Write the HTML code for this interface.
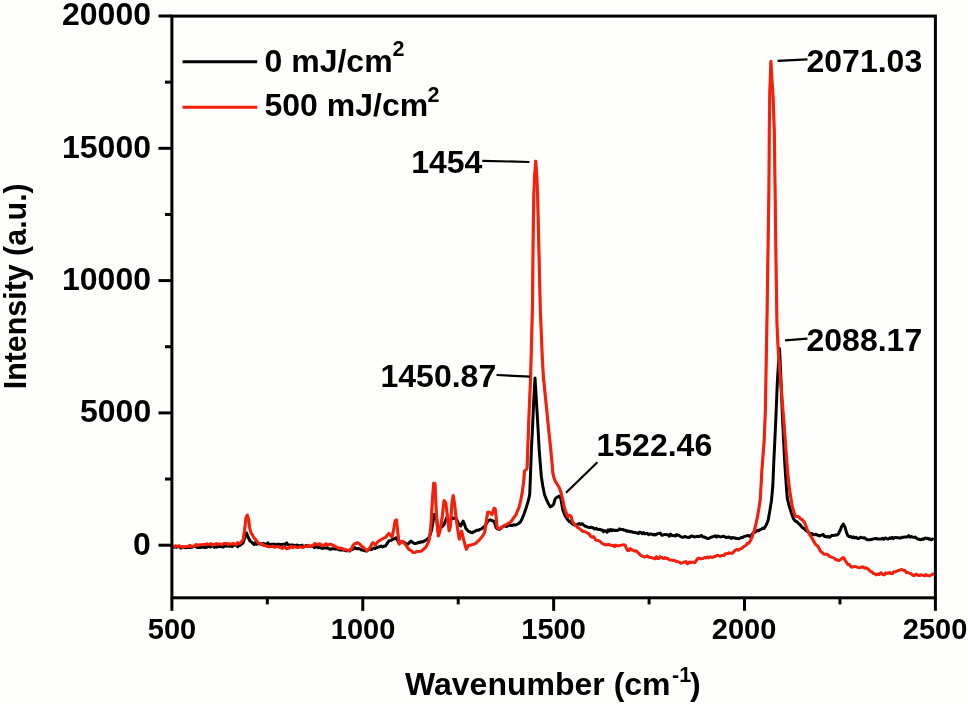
<!DOCTYPE html>
<html><head><meta charset="utf-8"><title>Raman spectra</title>
<style>
html,body{margin:0;padding:0;background:#fefefc;}
svg{display:block}
text{font-family:"Liberation Sans",sans-serif;font-weight:bold;fill:#000;}
</style></head><body>
<svg width="968" height="704" viewBox="0 0 968 704">
<rect x="0" y="0" width="968" height="704" fill="#fefefc"/>
<polyline points="172,546.5 173.1,546.6 174.3,547.3 175.4,546.2 176.6,547.3 177.7,546.7 178.9,546.8 180,547 181.1,548.1 182.2,547.2 183.3,547.1 184.4,547.6 185.6,547.8 186.7,547.2 187.8,547.6 188.9,546.8 190,547.4 191.1,547.2 192.2,547.2 193.3,546.7 194.4,546.6 195.6,546.6 196.7,547.3 197.8,547.4 198.9,547.3 200,547.5 201.1,547.5 202.2,546.7 203.3,547.3 204.4,547.4 205.6,547.6 206.7,546.7 207.8,546.9 208.9,545.9 210,547 211.1,546.7 212.2,545.7 213.3,546.1 214.4,547.4 215.6,545.5 216.7,547.1 217.8,546.8 218.9,546.4 220,546.5 221.1,546.7 222.2,546.7 223.3,547 224.4,546.2 225.6,546 226.7,546 227.8,545.7 228.9,546.2 230,546.2 231.1,545.7 232.2,546.6 233.3,544.9 234.4,545.3 235.6,545.3 236.7,544.6 237.8,546.7 238.9,544.3 240,545.5 241.5,544.1 243,543 245,537 246.5,533 248,537 250,541 251.5,542 253,543.5 254.2,544.5 255.3,542.6 256.5,544.3 257.7,543.4 258.8,543.8 260,544 261.1,543.7 262.2,544.4 263.3,543.4 264.4,544 265.6,544.3 266.7,545.1 267.8,542.8 268.9,545 270,544.2 271.1,544.8 272.2,544 273.3,544.5 274.4,544.1 275.6,545.3 276.7,544.5 277.8,544.3 278.9,544.3 280,544.5 281.1,544.4 282.2,544.5 283.3,544.2 284.4,545.9 285.6,543.7 286.7,542.9 287.8,544.8 288.9,544.9 290,545 291.1,545.3 292.2,545 293.3,545.1 294.4,545.4 295.6,545.8 296.7,545.1 297.8,545.2 298.9,546.5 300,545.5 301.1,545.9 302.2,545.2 303.3,547.1 304.4,546.4 305.6,545.8 306.7,545.6 307.8,546.5 308.9,546 310,546.6 311.1,546.1 312.2,546.1 313.3,546.6 314.4,547.6 315.6,546.9 316.7,546.4 317.8,547.7 318.9,547.4 320,547.5 321.1,548.1 322.3,548.4 323.4,547.8 324.6,547.9 325.7,548.1 326.9,547.6 328,548.4 329.2,548.9 330.3,549.4 331.5,548.8 332.7,548.7 333.8,548.8 335,549 336.2,548.8 337.5,549.1 338.8,549.5 340,550 341.2,549.7 342.5,550 343.8,549.5 345,550.5 346.2,550.8 347.5,550.8 348.8,550.2 350,551 351.2,549 352.4,549.6 353.6,548.6 354.9,547.6 356.4,548.7 358,548.6 359.2,548.7 360.3,549.3 361.5,550 362.9,550 364.4,550.6 365.9,551 367.3,550.6 368.6,549.6 370,549.6 371.5,549.5 373,548.4 374.1,548 375.3,548.5 376.4,547.8 377.5,547.5 378.6,547 379.7,546.8 381.1,546.1 382.6,547 384.1,546.1 385.5,546 387.2,543.4 388.8,541 391,540.4 392.9,539.3 394.6,538.6 396.2,537.7 397.5,540.4 398.7,542.6 400.8,542 402.8,541.8 404.1,542.4 405.4,543.2 406.6,544.1 407.8,544.3 409.4,542.6 411,541 412.8,542.6 414.4,543.5 416,543.4 417.6,543 418.7,542.2 419.9,542.4 421,541.8 422.3,542.1 423.6,541.4 424.8,540.7 426,540.2 427.8,538.8 429.3,536.9 430.6,533.4 431.7,529.4 433,522 434.2,514.5 435.9,514.5 436.8,520 437.5,526 439,527.2 440.8,527.8 442.5,526.4 444.1,524.5 445.4,521 446.6,517.9 447.8,520 449.1,522.8 450.8,520 452.4,517.9 454,518.4 455.7,517.9 457,520 458.2,522.8 459.5,524.6 460.7,526 462,523.4 463.1,521 464.4,524 465.6,527.8 466.8,529.6 468.1,531 470,532 472.2,532.7 473.4,531.9 474.6,531.6 475.9,530.7 477.2,530.2 478.6,530.2 480,529.4 481.5,528.9 483,527.8 484.8,526 486.3,523.6 487.6,521.6 488.8,520.3 490.1,519.8 491.4,520.4 492.5,520.9 493.7,521 495,524 496.2,527.8 497.4,529 499.5,529.4 500.8,528.1 502,527.4 503.4,526.2 504.9,525.9 506.2,526.5 507.4,526.1 508.7,525.1 510,525.4 511.1,525.4 512.2,525.5 513.4,524.8 514.5,525 515.6,525 517.8,524 519.8,522.6 520.9,521.2 522,519 523.9,514.3 525.6,509.6 527.2,504.4 528.5,500 529.7,494.5 530.3,479.6 531.4,449 532.5,428 533.7,401 535,378 536.4,401 538,428 539.2,449.8 540.3,464 541.4,477 542.8,486 544.5,494.5 546.2,499 547.9,502.7 549.2,505 550.3,506.9 552,506 553.6,504.4 554.5,501 555.3,498.6 557.4,497 559.4,496 561,499.4 562.7,509.3 564,513 565.2,516 567.2,519 569.3,521.7 570.5,521.6 571.8,523.4 573,524.4 574.3,525 575.5,525.1 576.8,524.7 578,524.2 579.1,523.5 580.3,524.4 581.5,523.7 582.6,524.2 583.7,525.2 584.9,526 586,526.4 587.6,527.1 589.2,527.5 590.6,527.2 592,527.5 593.4,528 594.7,528.9 596.1,528.3 597.4,529.2 598.7,529.5 600,529.3 601.1,530 602.3,529.9 603.5,531.7 604.6,530.8 605.8,530.9 607,532.1 608.1,529.8 609.3,531 610.5,529.4 611.8,530.7 613,529.8 614.3,530.4 615.7,530.2 617,530.6 618.2,530.2 619.4,528.9 620.6,529.6 621.8,529.5 623,529.4 624.2,530.2 625.5,530.3 626.7,531.2 628,531 629.1,531.3 630.3,531.8 631.5,531.5 632.6,532.2 633.8,532.2 634.9,532.7 636.1,532.6 637.2,533 638.5,533.5 639.7,532.1 641,532.4 642.2,533.7 643.5,532.5 644.8,533.9 646,533.6 647.2,533.3 648.5,534.7 649.8,534 651,534 652.2,534.4 653.4,534.9 654.6,534.3 655.8,534.9 657.4,533.7 659,533.6 660.3,533 661.7,535.2 663,535 664.2,534.6 665.5,534.6 666.8,534.8 668,534.8 669.3,536.1 670.6,534.2 671.8,535.5 673.1,535.4 674.4,535.8 675.5,536 676.7,534.6 677.9,535.3 679,535.4 680.2,536.2 681.5,537 682.8,537.3 684,536.8 685.3,536.5 686.6,537.2 688,537.3 689.3,537.6 690.5,536.4 691.8,536 693,536.4 694.3,536.9 695.7,536.7 697,536.6 698.1,536.3 699.3,536.7 700.4,535.8 701.6,535.6 702.8,536.9 704,537 705.3,537.5 706.5,538 707.8,538.6 709.1,538.3 710.3,537.6 711.6,537 712.8,536.7 714.1,536.3 715.3,535.8 716.5,537.1 717.8,536 719,536.4 720.3,536.9 721.7,536.6 723,536.2 724.3,536.4 725.7,537.4 727,537.4 728.6,537 730.2,537.6 731.5,538.4 732.7,537.4 734,538 735.2,537.9 736.4,538.6 737.6,538.6 738.7,538.7 739.9,538.4 741,537.6 742.5,537.6 744,536.6 745.5,536.1 746.9,535.8 748.5,535.6 750,536.5 751.5,535.1 753,533 754.5,532.4 756,531.4 757.3,530.3 758.7,530.7 760,529.6 761.4,529.3 762.7,528.3 764.1,528.4 766.2,525 768.1,520.4 769.8,511 771.5,500.2 772.8,486 773.8,462 775.7,422 777.4,381 779.5,348.4 781,381 782.6,420 784.6,460 785.4,473 786.6,490 787.4,499 789.3,506.3 791.4,513 793.3,518.3 794.5,520.1 795.8,521.4 797,521.7 798.3,523.4 799.6,524.2 801,526 802.2,527.4 803.4,528.4 804.6,528.5 805.8,530.3 807,531.2 808.1,531.2 809.3,533.1 810.4,533.5 811.8,533.5 813.2,534.5 814.6,534.8 815.9,534.2 817.2,535.1 818.5,535.5 819.7,535.9 820.8,535.4 822,535 823.3,534.5 824.7,536.6 826,536.6 827.1,537.1 828.3,536.3 829.5,537.3 830.6,536.5 831.8,535.4 833,535.4 834.5,535.2 836,535 837.3,534.9 838.6,533.5 840.3,530 841.7,526.4 843.3,524 845.1,527.4 846.4,532 847.7,535.5 849.4,536.8 851,536.6 852.2,537.8 853.4,536.9 854.6,538 856,537.2 857.4,538.5 858.8,538.5 860.4,537.3 862,537.6 863.3,538 864.7,537.8 866,539 867.2,539.7 868.5,539.7 869.7,539.7 870.9,539.5 872.3,539.2 873.6,538.9 875,538.6 876.2,538.5 877.5,539 878.8,539 880,539 881.2,539 882.5,538.3 883.8,539.3 885,538 886.2,538.3 887.4,539 888.6,539 889.8,537.9 891,538.5 892.2,537.3 893.5,538.7 894.8,537.6 896,537.6 897.2,537.7 898.5,537.7 899.8,538 901,538 902.2,537.1 903.5,537.4 904.8,537 906,537 907.3,536.9 908.6,535.5 909.9,537.1 911.2,536.5 912.6,537.1 914,537.4 915.2,537 916.4,538.1 917.6,539 918.8,539.2 920,539.7 921.2,539.5 922.5,539 923.7,539.3 925,538 926.3,538.4 927.7,538.2 929,539.2 930.2,538.9 931.4,539.8 932.5,539.1 933.7,539.5" fill="none" stroke="#000" stroke-width="3" stroke-linejoin="round"/>
<g fill="none" stroke="#f6200a" stroke-width="2.6" stroke-linejoin="round"><polyline transform="translate(-0.25,0)" points="172,546 173.2,545.9 174.4,546.4 175.6,546 176.8,546.1 178,546.3 179.2,545.8 180.3,546.3 181.5,547.1 182.7,546.8 183.8,547.2 185,546.6 186.2,546.6 187.3,546.6 188.5,546.4 189.7,545.2 190.8,546.6 192,546 193.2,546.2 194.4,546.1 195.6,544.7 196.8,544.6 198,545.6 199.2,544.8 200.5,544.7 201.8,544.9 203,544.4 204.2,544.3 205.3,544.6 206.5,543.8 207.7,544.3 208.8,544.3 210,544 211.1,543.6 212.3,545.1 213.4,544.4 214.6,544.8 215.7,543.8 216.9,543.7 218,544.2 219.1,543.9 220.3,544 221.4,544.4 222.6,544.1 223.7,543.6 224.9,543.3 226,543.8 227.1,543.5 228.3,544.6 229.4,543.5 230.6,544.2 231.7,544.3 232.9,543.2 234,544.2 235.2,544.1 236.4,544.7 237.6,542.6 238.8,543.4 240,543.5 241.5,541.7 243,540 244.5,531 246,518 247.2,515 248.5,519 249.5,527 251,533 252.5,535 254,538 255.5,539.3 257,541.5 258.5,543 260,544 261.2,544.3 262.5,543.9 263.8,545.6 265,545.5 266.2,546.1 267.3,546.4 268.5,546.9 269.7,546.5 270.8,546.5 272,546.6 273.1,546 274.3,547.3 275.4,546.7 276.6,546.9 277.7,546.6 278.9,546.9 280,547.6 281.1,547.3 282.3,548.5 283.4,546.6 284.6,547 285.7,548 286.9,548.8 288,548 289.1,548.2 290.3,546.6 291.4,546.1 292.6,547.8 293.7,547 294.9,546.6 296,547.2 297.1,547.7 298.2,547.7 299.4,547 300.5,546.9 301.6,547 302.8,547.6 303.9,546.9 305,546.4 306.2,546.6 307.3,546.5 308.5,545.1 309.7,546.6 310.8,546.3 312,545.6 313.2,545.5 314.5,543.6 315.8,544 317,544 318.3,544.9 319.7,543.7 321,545.2 322.3,544.9 323.7,545.4 325,544.6 326.2,543.7 327.5,545.3 328.8,544.5 330,544 331.3,544.4 332.7,545.3 334,545.6 335.3,546.7 336.7,547 338,547.6 339.3,548.6 340.7,547.9 342,548.6 343.3,548.7 344.7,549.9 346,549.6 347.5,550.3 349,551 350.3,549.5 351.6,549 353.2,545 355,543.4 356.2,543.6 357.4,542.6 359,543.6 360.7,545 361.9,546.8 363,546.8 365,549 366.1,549.7 367.3,551 369,549 370.6,546.8 371.8,543.9 373,542.6 374.2,543.7 375.5,545 377,542.6 378.8,541 380.1,540.1 381.5,539.4 383.1,538.4 384.6,537.7 385.8,537.4 387,535.4 388.8,533.5 390.5,535.6 392,536.9 393.7,529.4 395.2,520.6 396.5,519.8 397.8,532.7 399.2,544.3 400.6,542.2 402,541 403.6,542.6 405.3,544.3 407.5,547.4 409.4,550 410.7,550.1 412,551.4 413.6,552.8 415.2,552.6 416.5,551.4 417.7,551.3 419,551.4 420.2,551.3 421.4,551.1 422.6,550 424.4,548.6 426,546.8 427.8,543.6 429.3,539.3 430.9,526 432.4,500 433.7,483 435,483.5 436.2,509.6 437.3,526 438.3,536 440,531 441.3,523 442.5,514.5 443.4,506 444.1,500.5 445.8,503 447.4,516 448.3,524 449.1,531 450.4,526 451.2,514 452,503 453.2,495.5 454.4,503 455.5,512 456.5,521 457.4,527 458.2,532.7 459.3,539.3 460.5,534 461.5,531 462.3,534 463.1,537.7 464.8,544 466.4,549.3 467.7,546.6 468.9,545 470.4,545.3 472,544.6 473.2,544.4 474.3,544 475.5,543.5 476.8,542.3 478,541 479.2,540.1 480.5,538.5 482.6,536 484.6,532.7 485.5,527 486.3,521 487.1,516 487.9,512 489.2,512 490.4,513 492,514.5 493.2,511 494.2,508 495.4,509.6 496.2,518 497,526.5 498,528.6 499.5,529 500.8,527.9 502,527 503.4,526.2 504.9,525 506.1,524.7 507.4,523.8 508.6,523.2 509.8,522.6 511.1,521.6 512.4,519.6 513.6,518.1 514.8,516 515.9,515.2 517,512 518.9,507.7 520.6,501 522.2,492.8 523.9,479.6 524.5,471 526,469.8 527,468.5 527.6,453 529,415 530.6,377 531.6,340 532.5,305 533.1,241 533.8,195.5 534.6,176 535.7,161 536.8,176 537.6,195.5 538.7,241 540.3,309 542.3,358 543.4,377 546.1,403.6 548.5,428 550.7,449 552.3,466 552.7,472 553.6,476.6 555.3,481.2 557.4,484.6 559.4,487.9 560.7,491.6 561.9,496 563.2,502 564.4,507.7 566,512.6 567.7,516.8 569.4,515 571,516 571.8,519.4 572.6,521.7 573.8,523.4 575,524.8 576.3,525.9 577.6,527.5 578.7,528 579.9,529 581,529.8 582.6,531.3 584.2,531.7 585.5,531.9 586.8,532.6 588,533.5 589.2,534 590.8,536.7 592.4,537.2 593.5,536.6 594.7,538.4 595.8,540 596.9,540.3 598,540.4 600,541.4 601.3,542.7 602.6,543.6 604.1,544.4 605.6,545 606.7,544.5 607.9,545 609,544.4 610.5,545.2 612,545.6 613.2,545.1 614.4,546.7 615.6,545 617.1,545.7 618.6,546 619.7,545.3 620.9,545.3 622,545 623.5,544.9 625.1,545 626.4,548.4 627.9,550.7 629.1,550.4 630.2,548.6 631.4,550 632.7,549.9 634,551.1 635.3,550.7 636.5,551 637.8,552.6 639,553.6 640.3,555 641.5,555.8 642.8,556.2 644.4,557.2 646,556.4 647.3,555.8 648.7,557 650,557.6 651.3,557.5 652.6,558.2 653.9,558 655.1,558.8 656.4,556.7 657.6,558.4 658.9,558.7 660.1,556.7 661.4,557.2 662.7,558.3 664,558.6 665.2,557.6 666.4,558.6 667.6,558.4 669.2,559.9 670.7,560 671.9,560 673.2,560.4 674.4,560.4 675.6,561.3 676.8,561.4 678,561.8 679.2,562 680.4,563.2 681.5,563.1 682.7,562.7 684.4,562 686,561.6 687.3,563.9 688.6,562.9 689.7,561.9 690.9,562.8 692,562 693.4,562.2 694.8,562.7 696.6,560 698.5,558 699.7,558.3 700.8,559 702,558.8 703.5,558.2 705,557.4 706.1,558 707.3,556.9 708.4,558 710,556.7 711.6,557.2 712.7,557.4 713.9,556.4 715,556.8 716.2,555.8 717.4,555.1 718.6,555.6 720,556.3 721.3,555.8 722.7,555.3 723.9,555.7 725.2,553.7 726.4,553.8 727.6,553.6 728.8,552.7 730,553.2 731.3,553.1 732.6,553.1 733.9,551.6 735.5,550.1 737,549.6 738.5,550.2 740,549 741.6,548.6 743.2,547 744.6,546.1 746,545.4 747.4,543.1 748.8,543.2 750.6,540.4 752.5,535.8 754.3,530.6 756.2,522.8 757.6,516 759,507.9 760.3,499 761.9,470 764.2,440 765.4,409.5 766.4,350 766.9,325 768.9,190 769.3,131 769.8,92 770.9,61.3 772.2,84 773.1,97 774.3,131 775.2,199 776.1,270 777,325 778.2,350 779.8,371 783.9,422 787.6,472 789.6,490 791,499 792.3,506.3 793.8,512 795.3,516.3 797.4,516.4 799.4,517.3 800.7,519.2 802,519.4 803.2,520.8 804.4,522.4 806,526 807.4,530.4 808.5,532.1 809.6,534.6 810.8,536.5 812,538 813.2,540.5 814.5,542.5 815.8,544.8 817,545.4 818.3,546.9 819.6,549.6 821,551.8 822.5,552.6 823.7,554 824.8,554.4 826,554 827.1,554.5 828.3,554.9 829.5,556.6 830.6,556.6 831.9,557.3 833.3,557.9 834.6,558.4 835.9,560 837.3,559.8 838.6,560.7 840.6,559.6 842.7,557.6 844,557.9 845.4,561 846.7,562.6 848,564.6 849.4,564.5 850.7,566.7 852,567.2 853.3,566.8 854.6,566.6 856,566.6 857.4,567.3 858.8,567.7 860.4,567.7 862,566.8 863.3,567.1 864.5,568.2 865.8,567.7 867.3,568.6 868.8,569.6 870.4,571.4 872,572 873.5,573.7 874.9,573.7 876.3,575 877.6,573.9 879,574.6 881,572.6 883,574.8 884.3,574.9 885.7,572.9 887,573.6 888.3,573 889.7,572.5 891,573.7 892.3,573.8 893.7,571.8 895,572 896.2,571.5 897.4,570.8 898.6,570.4 899.8,570.1 900.9,569.6 902.1,569.7 903.5,570.3 905,570.6 906.5,572.7 908,572.6 909.6,573.2 911.2,573.7 912.4,575 913.6,575.6 914.8,575.4 916,574 917.6,574.8 919.2,575.8 920.7,574.8 922.1,575.1 923.6,575.2 924.8,576 926,574.5 927.1,575.3 928.3,575.8 929.6,576 931,575 932.4,574.6 933.7,573.2"/>
<polyline transform="translate(0.25,0)" points="172,546 173.2,545.9 174.4,546.4 175.6,546 176.8,546.1 178,546.3 179.2,545.8 180.3,546.3 181.5,547.1 182.7,546.8 183.8,547.2 185,546.6 186.2,546.6 187.3,546.6 188.5,546.4 189.7,545.2 190.8,546.6 192,546 193.2,546.2 194.4,546.1 195.6,544.7 196.8,544.6 198,545.6 199.2,544.8 200.5,544.7 201.8,544.9 203,544.4 204.2,544.3 205.3,544.6 206.5,543.8 207.7,544.3 208.8,544.3 210,544 211.1,543.6 212.3,545.1 213.4,544.4 214.6,544.8 215.7,543.8 216.9,543.7 218,544.2 219.1,543.9 220.3,544 221.4,544.4 222.6,544.1 223.7,543.6 224.9,543.3 226,543.8 227.1,543.5 228.3,544.6 229.4,543.5 230.6,544.2 231.7,544.3 232.9,543.2 234,544.2 235.2,544.1 236.4,544.7 237.6,542.6 238.8,543.4 240,543.5 241.5,541.7 243,540 244.5,531 246,518 247.2,515 248.5,519 249.5,527 251,533 252.5,535 254,538 255.5,539.3 257,541.5 258.5,543 260,544 261.2,544.3 262.5,543.9 263.8,545.6 265,545.5 266.2,546.1 267.3,546.4 268.5,546.9 269.7,546.5 270.8,546.5 272,546.6 273.1,546 274.3,547.3 275.4,546.7 276.6,546.9 277.7,546.6 278.9,546.9 280,547.6 281.1,547.3 282.3,548.5 283.4,546.6 284.6,547 285.7,548 286.9,548.8 288,548 289.1,548.2 290.3,546.6 291.4,546.1 292.6,547.8 293.7,547 294.9,546.6 296,547.2 297.1,547.7 298.2,547.7 299.4,547 300.5,546.9 301.6,547 302.8,547.6 303.9,546.9 305,546.4 306.2,546.6 307.3,546.5 308.5,545.1 309.7,546.6 310.8,546.3 312,545.6 313.2,545.5 314.5,543.6 315.8,544 317,544 318.3,544.9 319.7,543.7 321,545.2 322.3,544.9 323.7,545.4 325,544.6 326.2,543.7 327.5,545.3 328.8,544.5 330,544 331.3,544.4 332.7,545.3 334,545.6 335.3,546.7 336.7,547 338,547.6 339.3,548.6 340.7,547.9 342,548.6 343.3,548.7 344.7,549.9 346,549.6 347.5,550.3 349,551 350.3,549.5 351.6,549 353.2,545 355,543.4 356.2,543.6 357.4,542.6 359,543.6 360.7,545 361.9,546.8 363,546.8 365,549 366.1,549.7 367.3,551 369,549 370.6,546.8 371.8,543.9 373,542.6 374.2,543.7 375.5,545 377,542.6 378.8,541 380.1,540.1 381.5,539.4 383.1,538.4 384.6,537.7 385.8,537.4 387,535.4 388.8,533.5 390.5,535.6 392,536.9 393.7,529.4 395.2,520.6 396.5,519.8 397.8,532.7 399.2,544.3 400.6,542.2 402,541 403.6,542.6 405.3,544.3 407.5,547.4 409.4,550 410.7,550.1 412,551.4 413.6,552.8 415.2,552.6 416.5,551.4 417.7,551.3 419,551.4 420.2,551.3 421.4,551.1 422.6,550 424.4,548.6 426,546.8 427.8,543.6 429.3,539.3 430.9,526 432.4,500 433.7,483 435,483.5 436.2,509.6 437.3,526 438.3,536 440,531 441.3,523 442.5,514.5 443.4,506 444.1,500.5 445.8,503 447.4,516 448.3,524 449.1,531 450.4,526 451.2,514 452,503 453.2,495.5 454.4,503 455.5,512 456.5,521 457.4,527 458.2,532.7 459.3,539.3 460.5,534 461.5,531 462.3,534 463.1,537.7 464.8,544 466.4,549.3 467.7,546.6 468.9,545 470.4,545.3 472,544.6 473.2,544.4 474.3,544 475.5,543.5 476.8,542.3 478,541 479.2,540.1 480.5,538.5 482.6,536 484.6,532.7 485.5,527 486.3,521 487.1,516 487.9,512 489.2,512 490.4,513 492,514.5 493.2,511 494.2,508 495.4,509.6 496.2,518 497,526.5 498,528.6 499.5,529 500.8,527.9 502,527 503.4,526.2 504.9,525 506.1,524.7 507.4,523.8 508.6,523.2 509.8,522.6 511.1,521.6 512.4,519.6 513.6,518.1 514.8,516 515.9,515.2 517,512 518.9,507.7 520.6,501 522.2,492.8 523.9,479.6 524.5,471 526,469.8 527,468.5 527.6,453 529,415 530.6,377 531.6,340 532.5,305 533.1,241 533.8,195.5 534.6,176 535.7,161 536.8,176 537.6,195.5 538.7,241 540.3,309 542.3,358 543.4,377 546.1,403.6 548.5,428 550.7,449 552.3,466 552.7,472 553.6,476.6 555.3,481.2 557.4,484.6 559.4,487.9 560.7,491.6 561.9,496 563.2,502 564.4,507.7 566,512.6 567.7,516.8 569.4,515 571,516 571.8,519.4 572.6,521.7 573.8,523.4 575,524.8 576.3,525.9 577.6,527.5 578.7,528 579.9,529 581,529.8 582.6,531.3 584.2,531.7 585.5,531.9 586.8,532.6 588,533.5 589.2,534 590.8,536.7 592.4,537.2 593.5,536.6 594.7,538.4 595.8,540 596.9,540.3 598,540.4 600,541.4 601.3,542.7 602.6,543.6 604.1,544.4 605.6,545 606.7,544.5 607.9,545 609,544.4 610.5,545.2 612,545.6 613.2,545.1 614.4,546.7 615.6,545 617.1,545.7 618.6,546 619.7,545.3 620.9,545.3 622,545 623.5,544.9 625.1,545 626.4,548.4 627.9,550.7 629.1,550.4 630.2,548.6 631.4,550 632.7,549.9 634,551.1 635.3,550.7 636.5,551 637.8,552.6 639,553.6 640.3,555 641.5,555.8 642.8,556.2 644.4,557.2 646,556.4 647.3,555.8 648.7,557 650,557.6 651.3,557.5 652.6,558.2 653.9,558 655.1,558.8 656.4,556.7 657.6,558.4 658.9,558.7 660.1,556.7 661.4,557.2 662.7,558.3 664,558.6 665.2,557.6 666.4,558.6 667.6,558.4 669.2,559.9 670.7,560 671.9,560 673.2,560.4 674.4,560.4 675.6,561.3 676.8,561.4 678,561.8 679.2,562 680.4,563.2 681.5,563.1 682.7,562.7 684.4,562 686,561.6 687.3,563.9 688.6,562.9 689.7,561.9 690.9,562.8 692,562 693.4,562.2 694.8,562.7 696.6,560 698.5,558 699.7,558.3 700.8,559 702,558.8 703.5,558.2 705,557.4 706.1,558 707.3,556.9 708.4,558 710,556.7 711.6,557.2 712.7,557.4 713.9,556.4 715,556.8 716.2,555.8 717.4,555.1 718.6,555.6 720,556.3 721.3,555.8 722.7,555.3 723.9,555.7 725.2,553.7 726.4,553.8 727.6,553.6 728.8,552.7 730,553.2 731.3,553.1 732.6,553.1 733.9,551.6 735.5,550.1 737,549.6 738.5,550.2 740,549 741.6,548.6 743.2,547 744.6,546.1 746,545.4 747.4,543.1 748.8,543.2 750.6,540.4 752.5,535.8 754.3,530.6 756.2,522.8 757.6,516 759,507.9 760.3,499 761.9,470 764.2,440 765.4,409.5 766.4,350 766.9,325 768.9,190 769.3,131 769.8,92 770.9,61.3 772.2,84 773.1,97 774.3,131 775.2,199 776.1,270 777,325 778.2,350 779.8,371 783.9,422 787.6,472 789.6,490 791,499 792.3,506.3 793.8,512 795.3,516.3 797.4,516.4 799.4,517.3 800.7,519.2 802,519.4 803.2,520.8 804.4,522.4 806,526 807.4,530.4 808.5,532.1 809.6,534.6 810.8,536.5 812,538 813.2,540.5 814.5,542.5 815.8,544.8 817,545.4 818.3,546.9 819.6,549.6 821,551.8 822.5,552.6 823.7,554 824.8,554.4 826,554 827.1,554.5 828.3,554.9 829.5,556.6 830.6,556.6 831.9,557.3 833.3,557.9 834.6,558.4 835.9,560 837.3,559.8 838.6,560.7 840.6,559.6 842.7,557.6 844,557.9 845.4,561 846.7,562.6 848,564.6 849.4,564.5 850.7,566.7 852,567.2 853.3,566.8 854.6,566.6 856,566.6 857.4,567.3 858.8,567.7 860.4,567.7 862,566.8 863.3,567.1 864.5,568.2 865.8,567.7 867.3,568.6 868.8,569.6 870.4,571.4 872,572 873.5,573.7 874.9,573.7 876.3,575 877.6,573.9 879,574.6 881,572.6 883,574.8 884.3,574.9 885.7,572.9 887,573.6 888.3,573 889.7,572.5 891,573.7 892.3,573.8 893.7,571.8 895,572 896.2,571.5 897.4,570.8 898.6,570.4 899.8,570.1 900.9,569.6 902.1,569.7 903.5,570.3 905,570.6 906.5,572.7 908,572.6 909.6,573.2 911.2,573.7 912.4,575 913.6,575.6 914.8,575.4 916,574 917.6,574.8 919.2,575.8 920.7,574.8 922.1,575.1 923.6,575.2 924.8,576 926,574.5 927.1,575.3 928.3,575.8 929.6,576 931,575 932.4,574.6 933.7,573.2"/></g>
<rect x="171.9" y="16.1" width="763.5" height="581.6999999999999" fill="none" stroke="#000" stroke-width="3"/>
<line x1="158.5" x2="171.9" y1="545.2" y2="545.2" stroke="#000" stroke-width="3"/>
<line x1="158.5" x2="171.9" y1="412.9" y2="412.9" stroke="#000" stroke-width="3"/>
<line x1="158.5" x2="171.9" y1="280.6" y2="280.6" stroke="#000" stroke-width="3"/>
<line x1="158.5" x2="171.9" y1="148.3" y2="148.3" stroke="#000" stroke-width="3"/>
<line x1="158.5" x2="171.9" y1="16" y2="16" stroke="#000" stroke-width="3"/>
<line x1="165" x2="171.9" y1="479.05" y2="479.05" stroke="#000" stroke-width="3"/>
<line x1="165" x2="171.9" y1="346.75" y2="346.75" stroke="#000" stroke-width="3"/>
<line x1="165" x2="171.9" y1="214.45" y2="214.45" stroke="#000" stroke-width="3"/>
<line x1="165" x2="171.9" y1="82.15" y2="82.15" stroke="#000" stroke-width="3"/>
<line y1="597.8" y2="610.8" x1="171.9" x2="171.9" stroke="#000" stroke-width="3"/>
<line y1="597.8" y2="610.8" x1="362.775" x2="362.775" stroke="#000" stroke-width="3"/>
<line y1="597.8" y2="610.8" x1="553.65" x2="553.65" stroke="#000" stroke-width="3"/>
<line y1="597.8" y2="610.8" x1="744.525" x2="744.525" stroke="#000" stroke-width="3"/>
<line y1="597.8" y2="610.8" x1="935.4" x2="935.4" stroke="#000" stroke-width="3"/>
<line y1="597.8" y2="604.4" x1="267.337" x2="267.337" stroke="#000" stroke-width="3"/>
<line y1="597.8" y2="604.4" x1="458.212" x2="458.212" stroke="#000" stroke-width="3"/>
<line y1="597.8" y2="604.4" x1="649.087" x2="649.087" stroke="#000" stroke-width="3"/>
<line y1="597.8" y2="604.4" x1="839.962" x2="839.962" stroke="#000" stroke-width="3"/>
<line x1="182.5" x2="257.2" y1="61.7" y2="61.7" stroke="#000" stroke-width="3"/>
<line x1="182.5" x2="257.2" y1="107.3" y2="107.3" stroke="#f6200a" stroke-width="3"/>
<line x1="482.3" y1="160.8" x2="529.4" y2="162" stroke="#000" stroke-width="2.2"/>
<line x1="496.5" y1="375" x2="530" y2="376.7" stroke="#000" stroke-width="2.2"/>
<line x1="566" y1="492.8" x2="597.4" y2="462.3" stroke="#000" stroke-width="2.2"/>
<line x1="777.6" y1="60.8" x2="807.5" y2="59.3" stroke="#000" stroke-width="2.2"/>
<line x1="785" y1="340.3" x2="807.5" y2="338.7" stroke="#000" stroke-width="2.2"/>
<text x="62" y="25.3" font-size="32">20000</text>
<text x="62" y="157.7" font-size="32">15000</text>
<text x="62" y="289.9" font-size="32">10000</text>
<text x="80" y="422.0" font-size="32">5000</text>
<text x="133" y="554.9" font-size="32">0</text>
<text x="147.8" y="639.4" font-size="29">500</text>
<text x="330.8" y="639.4" font-size="29">1000</text>
<text x="521.3" y="639.4" font-size="29">1500</text>
<text x="711.8" y="639.4" font-size="29">2000</text>
<text x="902.8" y="639.4" font-size="29">2500</text>
<text x="411.2" y="172.7" font-size="32">1454</text>
<text x="380.5" y="386.5" font-size="32">1450.87</text>
<text x="596.5" y="455.9" font-size="32">1522.46</text>
<text x="806.5" y="71.6" font-size="32">2071.03</text>
<text x="806.5" y="350.7" font-size="32">2088.17</text>
<text x="264.5" y="71.5" font-size="32">0 mJ/cm</text>
<text x="392.5" y="56.4" font-size="21.5">2</text>
<text x="264.5" y="115.8" font-size="32">500 mJ/cm</text>
<text x="427.5" y="102.3" font-size="21.5">2</text>
<text x="405" y="694.6" font-size="32">Wavenumber (cm</text>
<text x="672" y="682.3" font-size="21.5">-1</text>
<text x="690" y="694.6" font-size="32">)</text>
<text transform="translate(26.3,389.3) rotate(-90)" x="0" y="0" font-size="32" textLength="206" lengthAdjust="spacingAndGlyphs">Intensity (a.u.)</text>
</svg>
</body></html>
